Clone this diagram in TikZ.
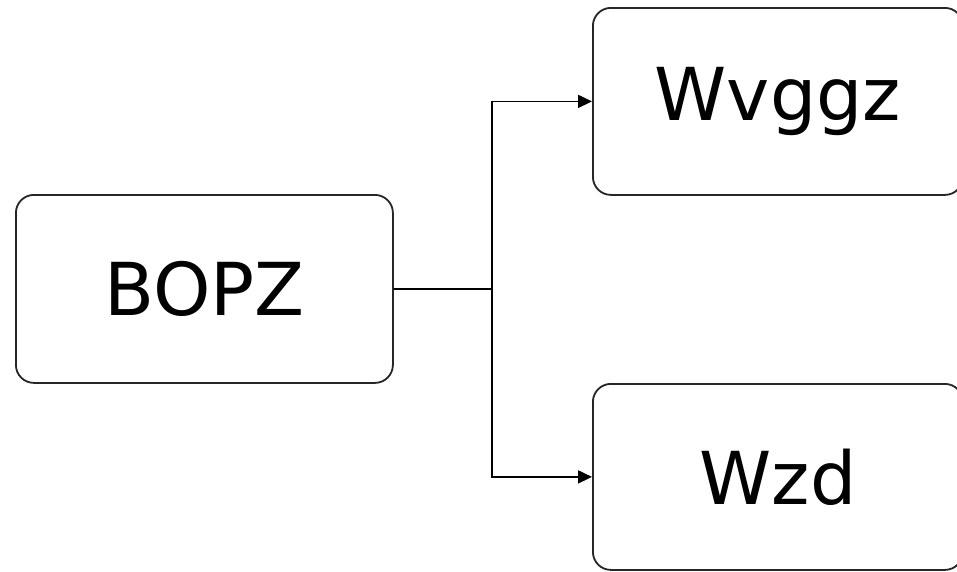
\documentclass[tikz,border=0pt]{standalone}
\usepackage{fontspec}
\setmainfont{DejaVu Sans}
\usetikzlibrary{arrows.meta}
\begin{document}
\begin{tikzpicture}[x=1pt,y=-1pt,
  box/.style={draw=black!85,line width=1.8pt,rounded corners=18pt,fill=white,anchor=north west,inner sep=0pt,
    font=\fontsize{73}{80}\selectfont},
  conn/.style={draw=black,line width=1.8pt},
  tip/.style={-{Triangle[length=14pt,width=13pt]}}]
\useasboundingbox[fill=white] (0,0) rectangle (957,571);
\node[box,minimum width=377pt,minimum height=188pt] (bopz) at (15,194) {BOPZ};
\node[box,minimum width=370pt,minimum height=187pt] (wv) at (592,7) {Wvggz};
\node[box,minimum width=370pt,minimum height=186pt] (wz) at (592,383) {Wzd};
\coordinate (jx) at (492,288);
\coordinate (j) at (bopz.east -| jx);
\draw[conn] (bopz.east) -- (j);
\draw[conn,tip] (j) |- (wv.west);
\draw[conn,tip] (j) |- (wz.west);
\end{tikzpicture}
\end{document}
